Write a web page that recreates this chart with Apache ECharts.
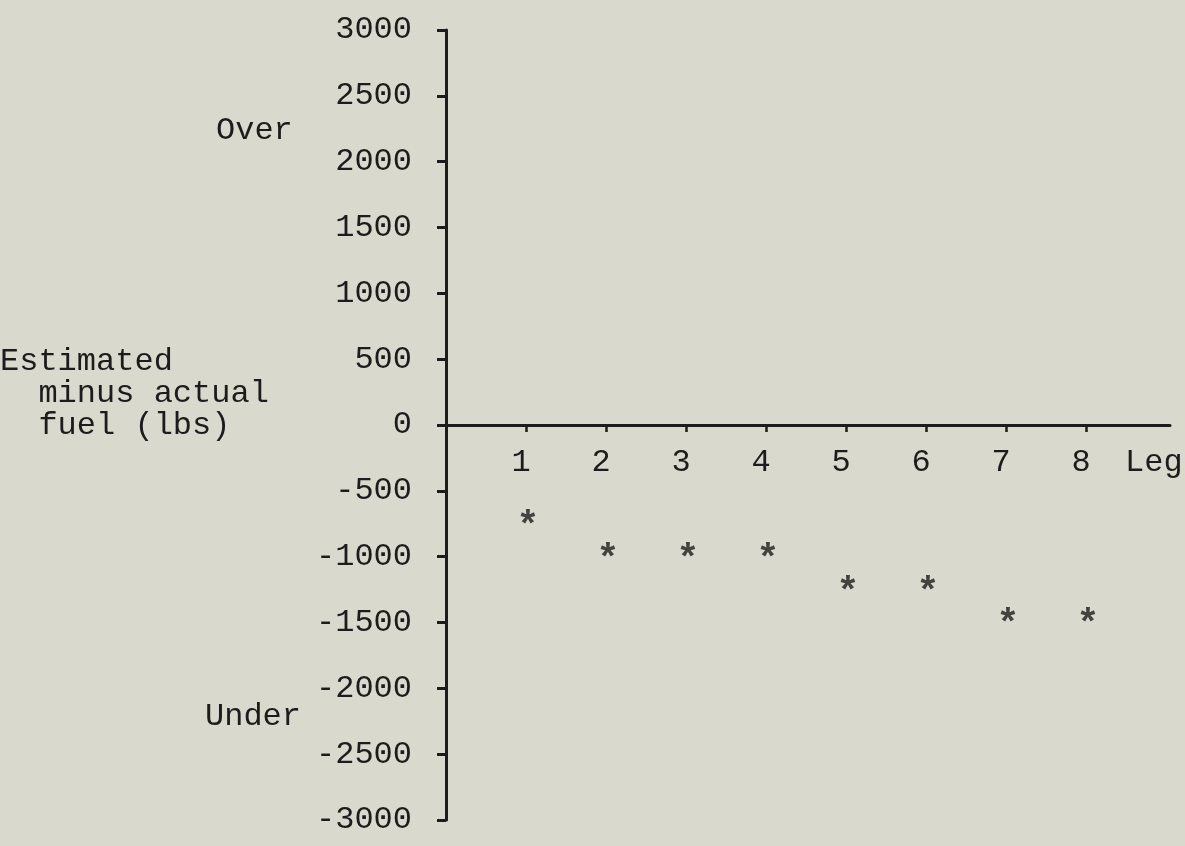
<!DOCTYPE html>
<html>
<head>
<meta charset="utf-8">
<script src="https://cdn.jsdelivr.net/npm/echarts@6/dist/echarts.min.js"></script>
<style>
  html, body { margin: 0; padding: 0; background: #d9dacd; }
  #chart { width: 1185px; height: 846px; }
</style>
</head>
<body>
<div id="chart"></div>
<script>
// ---- data ----
const legs = [1, 2, 3, 4, 5, 6, 7, 8];
const fuelDiff = [-700, -950, -950, -950, -1200, -1200, -1450, -1450];
const xTickValues = [1, 2, 3, 4, 5, 6, 7, 8];
const yTitleLines = ['Estimated', '  minus actual', '  fuel (lbs)'];
const overLabel = 'Over';
const underLabel = 'Under';
const xName = 'Leg';

const FONT = '"Liberation Mono", "DejaVu Sans Mono", monospace';
const INK = '#1c1c1c';

const GRID_TOP = 30, GRID_BOTTOM = 26, H = 846;
const halfPlot = (H - GRID_TOP - GRID_BOTTOM) / 2; // y range is symmetric, zero sits mid-plot

const chart = echarts.init(document.getElementById('chart'));
const points = legs.map((l, i) => [l, fuelDiff[i]]);

chart.setOption({
  backgroundColor: '#d9dacd',
  animation: false,
  grid: { left: 446, right: 15, top: GRID_TOP, bottom: GRID_BOTTOM, outerBoundsMode: 'none', containLabel: false },
  xAxis: {
    type: 'value',
    min: 0,
    max: 9.05,
    interval: 1,
    offset: -halfPlot,
    splitLine: { show: false },
    axisLine: { show: true, onZero: false, lineStyle: { color: INK, width: 3 } },
    axisTick: { show: true, customValues: xTickValues, length: 7, inside: false, lineStyle: { color: INK, width: 2.5 } },
    axisLabel: {
      show: true, customValues: xTickValues, margin: 22,
      color: INK, fontFamily: FONT, fontSize: 32, padding: [0, 10, 0, 0]
    },
    name: xName,
    nameLocation: 'end',
    nameGap: -45,
    nameTextStyle: { color: INK, fontFamily: FONT, fontSize: 32, align: 'left', verticalAlign: 'top', padding: [22, 0, 0, 0] }
  },
  yAxis: {
    type: 'value',
    min: -3000,
    max: 3000,
    interval: 500,
    splitLine: { show: false },
    axisLine: { show: true, onZero: false, lineStyle: { color: INK, width: 3 } },
    axisTick: { show: true, length: 9, inside: false, lineStyle: { color: INK, width: 3 } },
    axisLabel: { show: true, margin: 34, color: INK, fontFamily: FONT, fontSize: 32, formatter: v => String(v) }
  },
  graphic: [
    {
      type: 'text', left: 0, top: 346,
      style: { text: yTitleLines.join('\n'), fill: INK, font: '32px ' + FONT, lineHeight: 32 }
    },
    {
      type: 'text', left: 216, top: 115,
      style: { text: overLabel, fill: INK, font: '32px ' + FONT }
    },
    {
      type: 'text', left: 205, top: 701,
      style: { text: underLabel, fill: INK, font: '32px ' + FONT }
    }
  ],
  series: [{
    type: 'scatter',
    data: points,
    symbolSize: 1,
    itemStyle: { color: 'rgba(0,0,0,0)' },
    label: {
      show: true, position: 'inside', formatter: '*',
      color: INK, fontFamily: FONT, fontSize: 38, fontWeight: 'bold', offset: [2, 10]
    }
  }]
});
</script>
</body>
</html>
